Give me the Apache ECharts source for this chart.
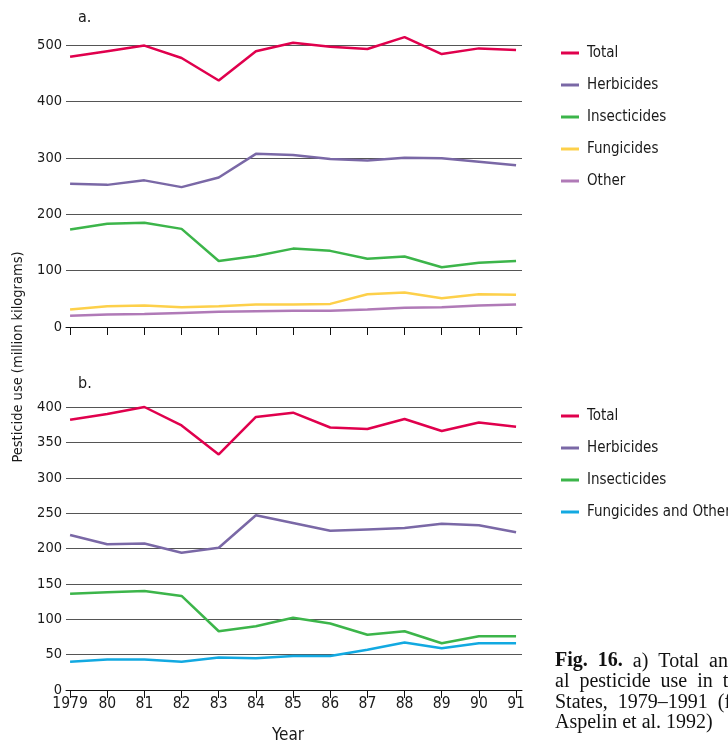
<!DOCTYPE html>
<html>
<head>
<meta charset="utf-8">
<script src="https://cdn.jsdelivr.net/npm/echarts@6/dist/echarts.min.js"></script>
<style>
  html, body { margin: 0; padding: 0; background: #fff; }
  #chart { width: 728px; height: 744px; }
</style>
</head>
<body>
<div id="chart"></div>
<script>
const years = [1979, 1980, 1981, 1982, 1983, 1984, 1985, 1986, 1987, 1988, 1989, 1990, 1991];
const yearLabels = ['1979', '80', '81', '82', '83', '84', '85', '86', '87', '88', '89', '90', '91'];

// panel a
const totalA = [479, 489, 499, 477, 437, 489, 504, 497, 493, 514, 484, 494, 491];
const herbicidesA = [254, 252, 260, 248, 265, 307, 305, 298, 295, 300, 299, 293, 287];
const insecticidesA = [173, 183, 185, 174, 117, 126, 139, 135, 121, 125, 106, 114, 117];
const fungicidesA = [31, 37, 38, 35, 37, 40, 40, 41, 58, 61, 51, 58, 57];
const otherA = [20, 22, 23, 25, 27, 28, 29, 29, 31, 34, 35, 38, 40];

// panel b
const totalB = [382, 390, 400, 374, 333, 386, 392, 371, 369, 383, 366, 378, 372];
const herbicidesB = [219, 206, 207, 194, 201, 247, 236, 225, 227, 229, 235, 233, 223];
const insecticidesB = [136, 138, 140, 133, 83, 90, 102, 94, 78, 83, 66, 76, 76];
const fungOtherB = [40, 43, 43, 40, 46, 45, 48, 48, 57, 67, 59, 66, 66];

const colors = {
    'Total': '#e0004d',
    'Herbicides': '#7a68a6',
    'Insecticides': '#3cb54a',
    'Fungicides': '#fdd04a',
    'Other': '#b07ab7',
    'Fungicides and Other': '#12a9e1'
};

const font = "'DejaVu Sans Condensed', 'Liberation Sans Narrow', sans-serif";
const textColor = '#1a1a1a';
const gridColor = '#555';

function pairs(values) {
    return values.map((v, i) => [years[i], v]);
}

function makeSeries(name, values, idx) {
    return {
        name: name,
        type: 'line',
        xAxisIndex: idx,
        yAxisIndex: idx,
        data: pairs(values),
        showSymbol: false,
        symbol: 'none',
        clip: false,
        lineStyle: { width: 2.5, color: colors[name] },
        itemStyle: { color: colors[name] },
        animation: false
    };
}

function makeXAxis(idx, showLabels) {
    return {
        type: 'value',
        gridIndex: idx,
        min: 1978.89,
        max: 1991.16,
        splitLine: { show: false },
        axisLine: { show: true, lineStyle: { color: '#111', width: 1 } },
        axisTick: { show: true, length: 8, customValues: years, lineStyle: { color: '#111' } },
        axisLabel: {
            show: showLabels,
            customValues: years,
            formatter: v => yearLabels[years.indexOf(Math.round(v))],
            color: textColor,
            fontFamily: font,
            fontSize: 15.5,
            margin: 6
        }
    };
}

function makeYAxis(idx, max, interval) {
    return {
        type: 'value',
        gridIndex: idx,
        min: 0,
        max: max,
        interval: interval,
        axisLine: { show: false },
        axisTick: { show: false },
        splitLine: { show: true, lineStyle: { color: gridColor, width: 1 } },
        axisLabel: { color: textColor, fontFamily: font, fontSize: 14.5, margin: 4 }
    };
}

function makeLegend(names, top) {
    return {
        orient: 'vertical',
        left: 556,
        top: top,
        itemWidth: 18,
        itemHeight: 3,
        itemGap: 16,
        icon: 'rect',
        data: names,
        selectedMode: false,
        textStyle: { color: textColor, fontFamily: font, fontSize: 15, lineHeight: 16, padding: [0, 0, 0, 3] }
    };
}

const chart = echarts.init(document.getElementById('chart'));

const option = {
    backgroundColor: '#fff',
    animation: false,
    grid: [
        { left: 66, right: 206, top: 45, height: 282 },
        { left: 66, right: 206, top: 407, height: 283 }
    ],
    xAxis: [makeXAxis(0, false), makeXAxis(1, true)],
    yAxis: [makeYAxis(0, 500, 100), makeYAxis(1, 400, 50)],
    legend: [
        makeLegend(['Total', 'Herbicides', 'Insecticides', 'Fungicides', 'Other'], 40),
        makeLegend(['Total', 'Herbicides', 'Insecticides', 'Fungicides and Other'], 403)
    ],
    series: [
        makeSeries('Other', otherA, 0),
        makeSeries('Fungicides', fungicidesA, 0),
        makeSeries('Insecticides', insecticidesA, 0),
        makeSeries('Herbicides', herbicidesA, 0),
        makeSeries('Total', totalA, 0),
        makeSeries('Fungicides and Other', fungOtherB, 1),
        makeSeries('Insecticides', insecticidesB, 1),
        makeSeries('Herbicides', herbicidesB, 1),
        makeSeries('Total', totalB, 1)
    ],
    graphic: [
        { type: 'text', left: 78, top: 10, style: { text: 'a.', font: '16px ' + font, fill: textColor } },
        { type: 'text', left: 78, top: 376, style: { text: 'b.', font: '16px ' + font, fill: textColor } },
        {
            type: 'text', x: 18, y: 357, rotation: Math.PI / 2,
            style: {
                text: 'Pesticide use (million kilograms)', font: '14.5px ' + font, fill: textColor,
                align: 'center', verticalAlign: 'middle'
            }
        },
        {
            type: 'text', x: 288, y: 736,
            style: { text: 'Year', font: '17px ' + font, fill: textColor, align: 'center', verticalAlign: 'middle' }
        },
        {
            type: 'text', left: 555, top: 651,
            style: {
                text: '{b|Fig.  16.}  a)  Total  and  individu-\nal  pesticide  use  in  the  United\nStates,  1979\u20131991  (from\nAspelin et al. 1992)',
                font: '20px "Liberation Serif", serif',
                fill: '#111',
                lineHeight: 20.5,
                rich: {
                    b: { fontWeight: 'bold', fontFamily: '"Liberation Serif", serif', fontSize: 20, fill: '#111' }
                }
            }
        }
    ]
};

chart.setOption(option);
</script>
</body>
</html>
